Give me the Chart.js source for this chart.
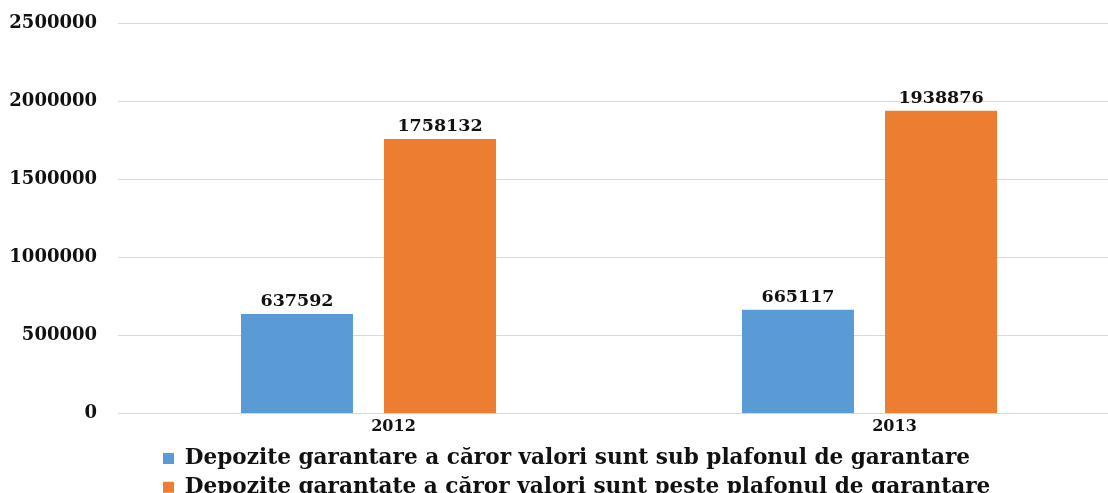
<!DOCTYPE html>
<html>
<head>
<meta charset="utf-8">
<script src="https://cdn.jsdelivr.net/npm/chart.js@4/dist/chart.umd.min.js"></script>
<style>
  html, body { margin: 0; padding: 0; background: #fff; overflow: hidden; }
  canvas { display: block; }
</style>
</head>
<body>
<canvas id="grafic" width="1122" height="508"></canvas>
<script>
// date
const ani = ['2012', '2013'];
const subPlafon = [637592, 665117];
const pestePlafon = [1758132, 1938876];
const etichetaSub = 'Depozite garantare a căror valori sunt sub plafonul de garantare';
const etichetaPeste = 'Depozite garantate a căror valori sunt peste plafonul de garantare';
const eticheteY = ['0', '500000', '1000000', '1500000', '2000000', '2500000'];

const fontSerif = 'DejaVu Serif';

// valorile deasupra coloanelor
const valoriPeColoane = {
    id: 'valoriPeColoane',
    afterDatasetsDraw(chart) {
        const ctx = chart.ctx;
        ctx.save();
        ctx.font = 'bold 17.5px "' + fontSerif + '"';
        ctx.fillStyle = '#111';
        ctx.textAlign = 'center';
        ctx.textBaseline = 'alphabetic';
        chart.data.datasets.forEach(function(ds, i) {
            chart.getDatasetMeta(i).data.forEach(function(bar, j) {
                ctx.fillText(String(ds.data[j]), bar.x, bar.y - 8);
            });
        });
        ctx.restore();
    }
};

// legenda aliniata la stanga, ca in original
const mutaLegenda = {
    id: 'mutaLegenda',
    afterLayout(chart) {
        chart.legend.left = 156;
    }
};

new Chart(document.getElementById('grafic').getContext('2d'), {
    type: 'bar',
    data: {
        labels: ani,
        datasets: [
            {
                label: etichetaSub,
                data: subPlafon,
                backgroundColor: '#5B9BD5',
                borderWidth: 0,
                categoryPercentage: 0.571,
                barPercentage: 0.783
            },
            {
                label: etichetaPeste,
                data: pestePlafon,
                backgroundColor: '#ED7D31',
                borderWidth: 0,
                categoryPercentage: 0.571,
                barPercentage: 0.783
            }
        ]
    },
    options: {
        responsive: false,
        animation: false,
        devicePixelRatio: 1,
        layout: {
            padding: { top: 23, left: 9, right: 2, bottom: 0 }
        },
        plugins: {
            legend: {
                position: 'bottom',
                align: 'start',
                labels: {
                    boxWidth: 11,
                    boxHeight: 11,
                    padding: 7,
                    color: '#111',
                    font: { family: fontSerif, size: 21.6, weight: 'bold' }
                }
            },
            tooltip: { enabled: false },
            title: { display: false }
        },
        scales: {
            x: {
                grid: { display: false, drawTicks: false },
                border: { display: false },
                ticks: {
                    color: '#111',
                    padding: 4,
                    labelOffset: 25,
                    font: { family: fontSerif, size: 16, weight: 'bold' }
                }
            },
            y: {
                min: 0,
                max: 2500000,
                afterFit: function(scale) {
                    scale.width = 109;
                    scale.paddingTop = 0;
                    scale.paddingBottom = 0;
                },
                grid: {
                    color: '#d9d9d9',
                    lineWidth: 1,
                    drawTicks: false
                },
                border: { display: false },
                ticks: {
                    stepSize: 500000,
                    color: '#111',
                    padding: 21,
                    font: { family: fontSerif, size: 18, weight: 'bold' },
                    callback: function(value, index) {
                        return eticheteY[index];
                    }
                }
            }
        }
    },
    plugins: [valoriPeColoane, mutaLegenda]
});
</script>
</body>
</html>
